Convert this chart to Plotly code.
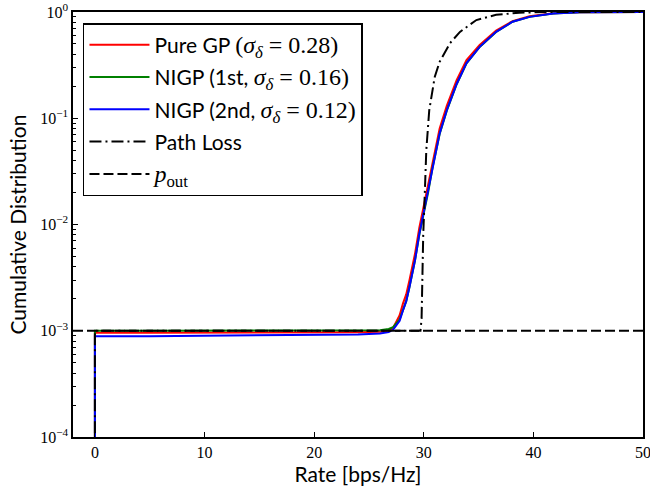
import plotly.graph_objects as go

# ------------------------------
# Données
rate_gp = [0, 0, 5, 10, 15, 20, 24, 26, 26.8, 27.2, 27.8, 28.1, 28.4, 28.7, 29.2, 29.6,
           30.1, 30.4, 30.8, 31.45, 32.1, 33.0, 33.9, 35.1, 36.6, 38.1, 39.65, 41.8,
           44.2, 47, 50]
cdf_pure_gp = [1e-5, 0.00096, 0.00096, 0.00096, 0.00096, 0.00096, 0.00097, 0.00098, 0.001,
               0.00106, 0.0014, 0.0018, 0.0022, 0.0030, 0.0053, 0.0094, 0.0166, 0.0232,
               0.039, 0.080, 0.131, 0.228, 0.352, 0.49, 0.67, 0.82, 0.91, 0.972, 0.995,
               0.9995, 1.0]
cdf_nigp_1st = [1e-5, 0.001, 0.001, 0.001, 0.001, 0.001, 0.001, 0.00101, 0.00104, 0.00108,
                0.00128, 0.00158, 0.0019, 0.0026, 0.0046, 0.0081, 0.0143, 0.0201, 0.0343,
                0.071, 0.118, 0.209, 0.329, 0.469, 0.649, 0.81, 0.90, 0.97, 0.995, 0.9995, 1.0]
cdf_nigp_2nd = [1e-5, 0.00089, 0.00089, 0.0009, 0.0009, 0.00091, 0.00092, 0.00094, 0.00097,
                0.00102, 0.00124, 0.00155, 0.0019, 0.0026, 0.0046, 0.0082, 0.0145, 0.0204,
                0.0347, 0.072, 0.119, 0.21, 0.33, 0.47, 0.65, 0.81, 0.90, 0.97, 0.995,
                0.9995, 1.0]

rate_pl = [0, 0, 10, 20, 29.7, 29.8, 29.85, 29.95, 30.08, 30.23, 30.5, 31.0, 31.45, 32.4,
           33.3, 34.8, 36.6, 38.7, 41, 50]
cdf_pl = [1e-5, 0.001, 0.001, 0.001, 0.001, 0.0013, 0.003, 0.008, 0.018, 0.05, 0.119, 0.245,
          0.34, 0.51, 0.65, 0.84, 0.94, 0.985, 0.998, 1.0]

rate_pout = [-2, 50]
p_out = [0.001, 0.001]

y_ticks = [1e-4, 1e-3, 1e-2, 1e-1, 1]
y_ticktext = ['10<sup>\u22124</sup>', '10<sup>\u22123</sup>', '10<sup>\u22122</sup>',
              '10<sup>\u22121</sup>', '10<sup>0</sup>']
y_minor = [m * 10 ** e for e in (-4, -3, -2, -1) for m in range(2, 10)]
x_ticks = [0, 10, 20, 30, 40, 50]

serif = '<span style="font-family:Liberation Serif;font-size:24px">'
sig = '<i>\u03c3</i><sub><i>\u03b4</i></sub>'
names = [
    f'Pure GP {serif}({sig} = 0.28)</span>',
    f'NIGP (1st, {serif}{sig} = 0.16)</span>',
    f'NIGP (2nd, {serif}{sig} = 0.12)</span>',
    'Path Loss',
    f'{serif}<i>p</i><sub>out</sub></span>',
]

# ------------------------------
fig = go.Figure()

for cdf, col, name, grp in [(cdf_pure_gp, 'red', names[0], 'a'),
                            (cdf_nigp_1st, 'green', names[1], 'b'),
                            (cdf_nigp_2nd, 'blue', names[2], 'c')]:
    fig.add_trace(go.Scatter(x=rate_gp, y=cdf, mode='lines', name=name, legendgroup=grp,
                             line=dict(color=col, width=2)))

fig.add_trace(go.Scatter(x=rate_pl, y=cdf_pl, mode='lines', name=names[3], legendgroup='d',
                         line=dict(color='black', width=2, dash='12px,4px,2px,4px')))
fig.add_trace(go.Scatter(x=rate_pout, y=p_out, mode='lines', name=names[4], legendgroup='e',
                         line=dict(color='black', width=2, dash='10px,4px')))

tick_font = dict(family='Liberation Serif', size=16, color='black')
fig.update_layout(
    width=650, height=489,
    paper_bgcolor='white', plot_bgcolor='white',
    margin=dict(l=73, r=7, t=12, b=52),
    font=dict(family='Lato', size=21, color='black'),
    xaxis=dict(
        range=[-2, 50], tickvals=x_ticks, ticks='inside', ticklen=5, tickcolor='black',
        showgrid=False, zeroline=False, showline=True, linecolor='black', linewidth=1.5,
        mirror=True, tickfont=tick_font, automargin=False, ticklabeloverflow='allow',
        title=dict(text='Rate [bps/Hz]', font=dict(size=21), standoff=4),
    ),
    yaxis=dict(
        type='log', range=[-4, 0], tickvals=y_ticks, ticktext=y_ticktext,
        ticks='inside', ticklen=5, tickcolor='black',
        minor=dict(tickvals=y_minor, ticks='inside', ticklen=3, tickcolor='black',
                   showgrid=False),
        showgrid=False, zeroline=False, showline=True, linecolor='black', linewidth=1.5,
        mirror=True, tickfont=tick_font, automargin=False, ticklabeloverflow='allow',
    ),
    legend=dict(
        x=0.0175, y=0.974, xanchor='left', yanchor='top',
        bgcolor='white', bordercolor='black', borderwidth=1.5,
        font=dict(size=21), tracegroupgap=2, traceorder='grouped', itemwidth=60,
    ),
    annotations=[dict(
        text='Cumulative Distribution', textangle=-90, showarrow=False,
        xref='paper', yref='paper', x=-0.0965, y=0.5, xanchor='center', yanchor='middle',
        font=dict(size=21),
    )],
)

fig.write_html("out.html", config={'displayModeBar': False},
               post_script="document.body.style.margin='0';")
